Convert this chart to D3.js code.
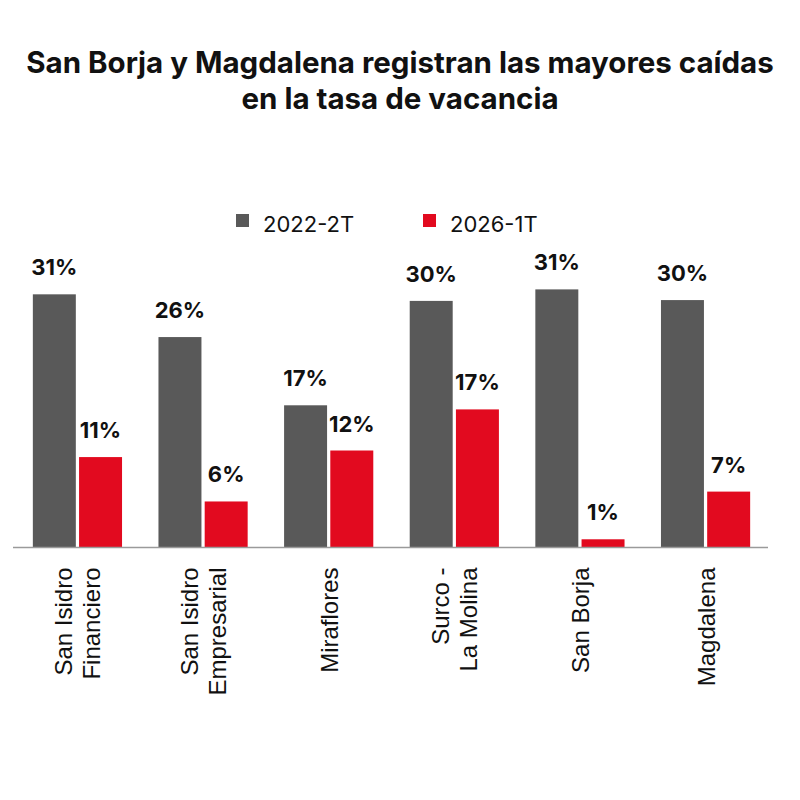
<!DOCTYPE html>
<html>
<head>
<meta charset="utf-8">
<script src="https://cdn.jsdelivr.net/npm/d3@7"></script>
<style>
  body { margin: 0; background: #fff; }
  svg { display: block; }
</style>
</head>
<body>
<div id="chart"></div>
<script>
// districts, each label already split into the lines shown on the axis
const categories = ["San Isidro Financiero", "San Isidro Empresarial", "Miraflores", "Surco - La Molina", "San Borja", "Magdalena"];
const categoryLines = [["San Isidro", "Financiero"], ["San Isidro", "Empresarial"], ["Miraflores"], ["Surco -", "La Molina"], ["San Borja"], ["Magdalena"]];
const seriesNames = ["2022-2T", "2026-1T"];
const values2022 = [30.8, 25.6, 17.3, 30.0, 31.4, 30.1];   // vacancy %
const values2026 = [11.0, 5.6, 11.8, 16.8, 1.0, 6.8];
const titleLines = ["San Borja y Magdalena registran las mayores caídas", "en la tasa de vacancia"];

const width = 800, height = 800;
const colors = d3.scaleOrdinal().domain(seriesNames).range(["#595959", "#e20a1f"]);

const svg = d3.select("#chart").append("svg")
    .attr("width", width)
    .attr("height", height);

// Title
svg.append("g").selectAll("text")
    .data(titleLines)
    .enter().append("text")
    .attr("x", width / 2)
    .attr("y", (d, i) => 72.5 + i * 36)
    .attr("text-anchor", "middle")
    .style("font-family", "Inter, 'Noto Sans', sans-serif")
    .style("font-weight", 700)
    .style("font-size", "29.5px")
    .style("fill", "#111")
    .text(d => d);

// Legend
const legendX = [236, 423];
const legend = svg.append("g").selectAll("g")
    .data(seriesNames)
    .enter().append("g")
    .attr("transform", (d, i) => `translate(${legendX[i]}, 214)`);
legend.append("rect")
    .attr("width", 13)
    .attr("height", 13)
    .style("fill", d => colors(d));
legend.append("text")
    .attr("x", 27)
    .attr("y", 17.5)
    .style("font-family", "Inter, 'Noto Sans', sans-serif")
    .style("font-size", "22px")
    .style("fill", "#111")
    .text(d => d);

// Scales
const baseY = 547.5;
const y = d3.scaleLinear()
    .domain([0, 35])
    .range([baseY, baseY - 35 * 8.22]);

const x0 = d3.scaleBand()
    .domain(categories)
    .range([14, 769])
    .paddingInner(0.29)
    .paddingOuter(0.15);

const x1 = d3.scaleBand()
    .domain(seriesNames)
    .range([0, x0.bandwidth()])
    .paddingInner(0.07);

const rows = categories.map((c, i) => ({
  category: c,
  lines: categoryLines[i],
  bars: [
    {series: seriesNames[0], value: values2022[i]},
    {series: seriesNames[1], value: values2026[i]}
  ]
}));

const groups = svg.append("g").selectAll(".group")
    .data(rows)
    .enter().append("g")
    .attr("class", "group")
    .attr("transform", d => `translate(${x0(d.category)}, 0)`);

groups.selectAll("rect")
    .data(d => d.bars)
    .enter().append("rect")
    .attr("x", d => x1(d.series))
    .attr("y", d => y(d.value))
    .attr("width", x1.bandwidth())
    .attr("height", d => y(0) - y(d.value))
    .style("fill", d => colors(d.series));

// value labels
groups.selectAll(".valueLabel")
    .data(d => d.bars)
    .enter().append("text")
    .attr("class", "valueLabel")
    .attr("x", d => x1(d.series) + x1.bandwidth() / 2)
    .attr("y", d => y(d.value) - 19)
    .attr("text-anchor", "middle")
    .style("font-family", "Inter, 'Noto Sans', sans-serif")
    .style("font-weight", 700)
    .style("font-size", "22px")
    .style("fill", "#111")
    .text(d => Math.round(d.value) + "%");

// baseline
svg.append("line")
    .attr("x1", 13)
    .attr("x2", 768)
    .attr("y1", y(0))
    .attr("y2", y(0))
    .style("stroke", "#9a9a9a")
    .style("stroke-width", "1.5px");

// rotated category labels, end-anchored just under the axis
const lineH = 28;
const labels = svg.append("g").selectAll("text")
    .data(rows)
    .enter().append("text")
    .attr("transform", d => {
      const cx = x0(d.category) + x0.bandwidth() / 2 + 1;
      return `translate(${cx}, ${y(0) + 20}) rotate(-90)`;
    })
    .attr("text-anchor", "end")
    .style("font-family", "'Liberation Sans', Arial, sans-serif")
    .style("font-size", "24px")
    .style("fill", "#111");

labels.selectAll("tspan")
    .data(d => d.lines.map((l, i) => ({text: l, i: i, n: d.lines.length})))
    .enter().append("tspan")
    .attr("x", 0)
    .attr("y", d => (d.i - (d.n - 1) / 2) * lineH + 8)
    .text(d => d.text);
</script>
</body>
</html>
